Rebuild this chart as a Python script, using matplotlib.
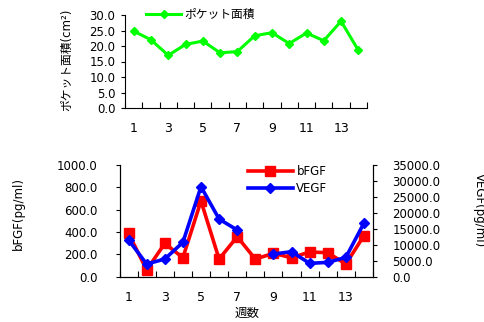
import numpy as np
import matplotlib
matplotlib.use("Agg")
import matplotlib.pyplot as plt
from matplotlib.ticker import FormatStrFormatter

plt.rcParams['font.family'] = ['DejaVu Sans', 'Noto Sans CJK JP']
plt.rcParams['font.size'] = 8.5

weeks = np.arange(1, 15)
week_labels = ["1", "3", "5", "7", "9", "11", "13"]

pocket_area = [24.8, 22.0, 17.0, 20.5, 21.6, 17.8, 18.2, 23.3, 24.3, 20.8, 24.2, 21.7, 28.0, 18.6]
bfgf = [388, 60, 298, 170, 678, 158, 358, 158, 209, 170, 221, 215, 113, 367]
vegf = [11500, 3970, 5540, 10760, 28200, 18070, 14630, np.nan, 7100, 7840, 4180, 4490, 6060, 16800]

W, H = 484, 322
fig = plt.figure(figsize=(W / 100, H / 100), dpi=100)


def px_box(left, top, right, bottom):
    return [left / W, 1 - bottom / H, (right - left) / W, (bottom - top) / H]


def style_category_axis(ax):
    ax.set_xlim(0.5, 14.5)
    ax.set_xticks(np.arange(0.5, 15, 1))
    ax.set_xticklabels([])
    ax.set_xticks(np.arange(1, 15, 2), minor=True)
    ax.set_xticklabels(week_labels, minor=True)
    ax.tick_params(axis='x', which='major', direction='in', length=4, width=0.8)
    ax.tick_params(axis='x', which='minor', length=0, pad=10, labelsize=9)
    ax.tick_params(axis='y', direction='out', length=3, width=0.8)
    ax.spines['top'].set_visible(False)


# pocket area panel
ax1 = fig.add_axes(px_box(125, 15, 367, 108))
ax1.plot(weeks, pocket_area, color='#00ff00', lw=2.2, marker='D', ms=4.5,
         label='ポケット面積')
ax1.set_ylim(0, 30)
ax1.set_yticks(np.arange(0, 31, 5))
ax1.yaxis.set_major_formatter(FormatStrFormatter('%.1f'))
style_category_axis(ax1)
ax1.spines['right'].set_visible(False)
ax1.tick_params(axis='y', pad=4)
ax1.legend(loc='center left', bbox_to_anchor=(146 / W, 1 - 14.5 / H),
           bbox_transform=fig.transFigure, frameon=False, borderpad=0,
           borderaxespad=0, handlelength=3.0, handletextpad=0.2, fontsize=8.5)
fig.text(67 / W, 1 - 60 / H, 'ポケット面積(cm²)', rotation=90,
         ha='center', va='center', fontsize=8.5)

# growth factor panel
ax2 = fig.add_axes(px_box(119.5, 165, 373, 276.7))
ax2.plot(weeks, bfgf, color='#ff0000', lw=2.6, marker='s', ms=7, label='bFGF')
ax2.set_ylim(0, 1000)
ax2.set_yticks(np.arange(0, 1001, 200))
ax2.yaxis.set_major_formatter(FormatStrFormatter('%.1f'))
style_category_axis(ax2)
ax2.tick_params(axis='y', pad=13)

ax3 = ax2.twinx()
ax3.plot(weeks, vegf, color='#0000ff', lw=2.6, marker='D', ms=5.5, label='VEGF')
ax3.set_ylim(0, 35000)
ax3.set_yticks(np.arange(0, 35001, 5000))
ax3.yaxis.set_major_formatter(FormatStrFormatter('%.1f'))
ax3.spines['top'].set_visible(False)
ax3.tick_params(axis='y', direction='out', length=3, width=0.8, pad=11)

handles = ax2.get_legend_handles_labels()[0] + ax3.get_legend_handles_labels()[0]
labels = ['bFGF', 'VEGF']
ax3.legend(handles, labels, loc='center left', bbox_to_anchor=(248 / W, 1 - 180 / H),
           bbox_transform=fig.transFigure, frameon=False, borderpad=0,
           borderaxespad=0, handlelength=3.8, handletextpad=0.3,
           labelspacing=0.4, fontsize=8.5)

fig.text(18 / W, 1 - 213 / H, 'bFGF(pg/ml)', rotation=90, ha='center', va='center',
         fontsize=8.5)
fig.text(479 / W, 1 - 210 / H, 'VEGF(pg/ml)', rotation=270, ha='center', va='center',
         fontsize=8.5)
fig.text(247 / W, 1 - 313 / H, '週数', ha='center', va='center', fontsize=9)

fig.savefig('out.png', dpi=100)
